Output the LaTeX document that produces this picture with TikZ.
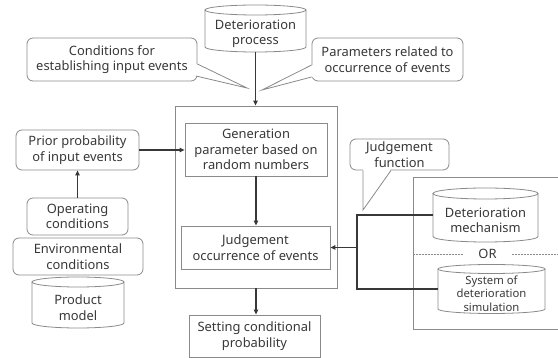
\documentclass[tikz,border=0pt]{standalone}
\usepackage{fontspec}
\setmainfont{Noto Sans}
\usetikzlibrary{arrows.meta,calc}
\definecolor{edge}{HTML}{8A8A8A}
\definecolor{ink}{HTML}{383838}
% cylinder outline around a node that covers the visible body
\newcommand\cylshape[3]{%
  \draw[cylline] ([yshift=#3]#1.north) ellipse [x radius=#2, y radius=#3];
  \draw[cylline] ([yshift=#3]#1.north west) -- ([yshift=#3]#1.south west)
    arc[start angle=180, end angle=360, x radius=#2, y radius=#3]
    -- ([yshift=#3]#1.north east);}
\begin{document}
\begin{tikzpicture}[x=1pt,y=-1pt,
  every node/.style={text=ink, font=\fontsize{12.9}{15.4}\selectfont, align=center},
  rbox/.style={draw=edge, line width=0.8pt, rounded corners=6pt, inner sep=0pt},
  sbox/.style={draw=edge, line width=0.8pt, inner sep=0pt},
  cylnode/.style={inner sep=0pt, outer sep=0pt},
  cylline/.style={draw=edge, line width=0.8pt},
  pline/.style={draw=edge, line width=0.8pt},
  arr/.style={draw=ink, line width=1.1pt, -{Triangle[length=5pt,width=4.5pt]}},
  conn/.style={draw=ink, line width=1.4pt}]
\useasboundingbox (0,0) rectangle (558,358);

% process database at the top
\node[cylnode, minimum width=101pt, minimum height=37pt] (proc) at (255.5,33.5) {Deterioration\\process};
\cylshape{proc}{50.5pt}{5pt}

% callouts feeding the generator
\node[rbox, minimum width=170pt, minimum height=43pt] (cond) at (112,59.5) {Conditions for\\establishing input events};
\node[rbox, minimum width=151pt, minimum height=43pt] (param) at (387.5,59.5) {Parameters related to\\occurrence of events};
\coordinate (condtip) at (247,88);
\coordinate (paramtip) at (262,90);
\fill[white] (196,64) -- (condtip) -- (196,76) -- cycle;
\draw[pline] (cond.east |- 0,64) -- (condtip) -- (196,76);
\fill[white] (313,65) -- (paramtip) -- (313,77) -- cycle;
\draw[pline] (param.west |- 0,65) -- (paramtip) -- (param.west |- 0,77);

% central simulation block
\node[sbox, minimum width=162pt, minimum height=182pt] (outer) at (256,197) {};
\node[sbox, minimum width=142pt, minimum height=53pt] (gen) at (256,149.5) {Generation\\parameter based on\\random numbers};
\node[sbox, minimum width=149pt, minimum height=43pt] (judge) at (255.5,247.5) {Judgement\\occurrence of events};
\node[sbox, minimum width=131pt, minimum height=42pt] (setting) at (254.5,336) {Setting conditional\\probability};

\draw[arr] (proc.south) -- (proc.south |- outer.north);
\draw[arr] (gen.south) -- (gen.south |- judge.north);
\draw[arr] (outer.south) -- (outer.south |- setting.north);

% inputs on the left
\node[rbox, minimum width=123pt, minimum height=40pt] (prior) at (77.5,150) {Prior probability\\of input events};
\node[rbox, minimum width=101pt, minimum height=37pt] (oper) at (77.5,216.5) {Operating\\conditions};
\node[rbox, minimum width=130pt, minimum height=37pt] (env) at (78,256.5) {Environmental\\conditions};
\node[cylnode, minimum width=92pt, minimum height=41pt] (prod) at (78,307.5) {Product\\model};
\cylshape{prod}{46pt}{5pt}

\draw[arr] (prior.east) -- (gen.west |- prior.east);
\draw[arr] (oper.north) -- (oper.north |- prior.south);

% judgement sources on the right
\node[sbox, minimum width=150pt, minimum height=152pt] (rbox) at (488,253) {};
\node[cylnode, minimum width=105pt, minimum height=43pt] (mech) at (485.5,220.5) {Deterioration\\mechanism};
\cylshape{mech}{52.5pt}{5.5pt}
\node[cylnode, minimum width=107pt, minimum height=40pt, font=\fontsize{11.3}{13.5}\selectfont] (sim) at (491.5,293.5) {System of\\deterioration\\simulation};
\cylshape{sim}{53.5pt}{4.5pt}
\node[inner xsep=15pt, inner ysep=0pt] (or) at (487.5,254) {OR};
\draw[edge, line width=0.5pt, densely dotted] (rbox.west |- or) -- (or.west);
\draw[edge, line width=0.5pt, densely dotted] (or.east) -- (rbox.east |- or);

\node[rbox, minimum width=99pt, minimum height=31pt] (jfun) at (399.5,154.5) {Judgement\\function};
\coordinate (jfuntip) at (363,210);
\fill[white] (363,169) -- (jfuntip) -- (391,169) -- cycle;
\draw[pline] (jfun.south -| 363,0) -- (jfuntip) -- (jfun.south -| 391,0);

\coordinate (jtop) at (357,215);
\coordinate (jbot) at (357,289);
\draw[conn] ([yshift=5.5pt]mech.west) -- (jtop) -- (jbot) -- ([yshift=4.5pt]sim.west);
\draw[arr, line width=1.4pt] (jtop |- judge.east) -- (judge.east);
\end{tikzpicture}
\end{document}
